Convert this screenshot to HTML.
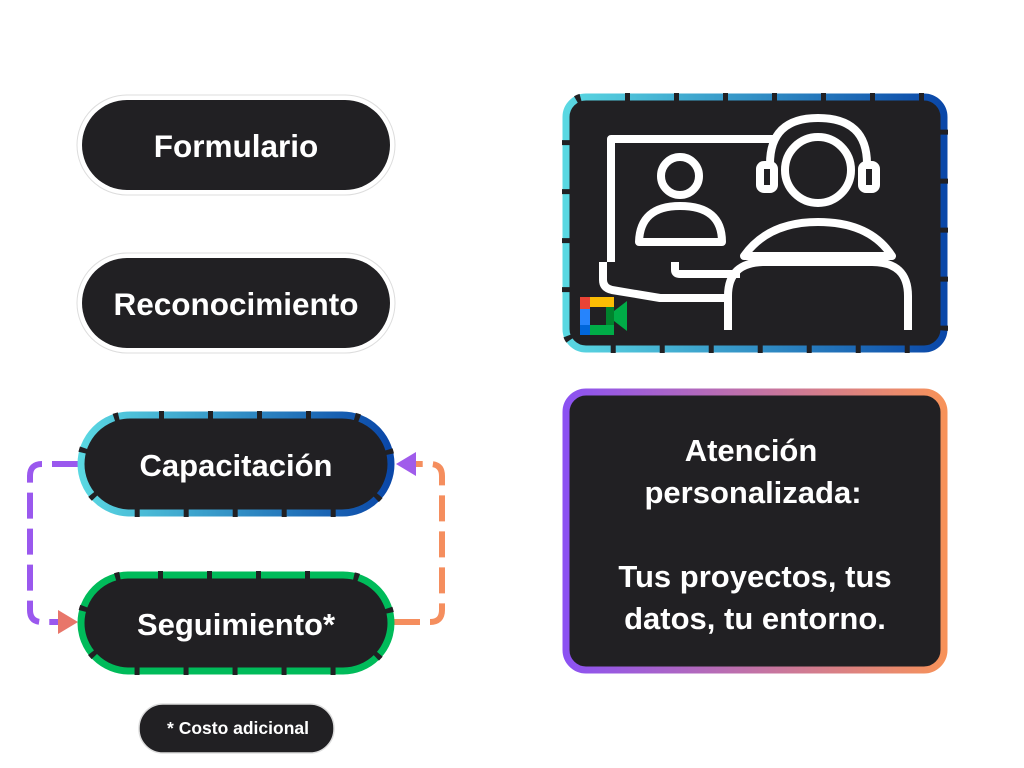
<!DOCTYPE html>
<html><head><meta charset="utf-8"><style>
html,body{margin:0;padding:0;background:#fff;width:1024px;height:768px;overflow:hidden}
svg{display:block}
text{font-family:"Liberation Sans",sans-serif;font-weight:bold;fill:#fff;text-anchor:middle}
</style></head><body>
<svg width="1024" height="768" viewBox="0 0 1024 768">
<defs>
<linearGradient id="blue" x1="0" x2="1" y1="0" y2="0"><stop offset="0" stop-color="#5ad8e2"/><stop offset="1" stop-color="#0a47a8"/></linearGradient>
<linearGradient id="po" x1="0" x2="1" y1="0" y2="0"><stop offset="0" stop-color="#8c52f2"/><stop offset="1" stop-color="#f7925a"/></linearGradient>
</defs>

<!-- Formulario -->
<rect x="77" y="95" width="318" height="100" rx="50" fill="#fff" stroke="#ddd" stroke-width="1"/>
<rect x="82" y="100" width="308" height="90" rx="45" fill="#212023"/>
<text x="236" y="157" font-size="31.5">Formulario</text>

<!-- Reconocimiento -->
<rect x="77" y="253" width="318" height="100" rx="50" fill="#fff" stroke="#ddd" stroke-width="1"/>
<rect x="82" y="258" width="308" height="90" rx="45" fill="#212023"/>
<text x="236" y="315" font-size="31.5">Reconocimiento</text>

<!-- connectors -->
<path d="M78 464 H42 Q30 464 30 476 V610 Q30 622 42 622 H62" fill="none" stroke="#9a58ee" stroke-width="6" stroke-dasharray="26 10"/>
<path d="M78 464 H48" stroke="url(#po)" stroke-width="6" fill="none"/>
<polygon points="58,610 78,622 58,634" fill="#e8766a"/>
<path d="M394 622 H430 Q442 622 442 610 V476 Q442 464 430 464 H410" fill="none" stroke="#f58e5e" stroke-width="6" stroke-dasharray="26 10"/>
<path d="M394 622 H425" stroke="url(#po)" stroke-width="6" fill="none"/>
<polygon points="416,452 396,464 416,476" fill="#a05ceb"/>
<path d="M416 464 H436" stroke="url(#po)" stroke-width="6"/>

<!-- Capacitación -->
<rect x="81" y="415" width="310" height="98" rx="49" fill="#212023" stroke="url(#blue)" stroke-width="7"/>
<rect x="81" y="415" width="310" height="98" rx="49" fill="none" stroke="#212023" stroke-width="8" stroke-dasharray="5 44" stroke-dashoffset="20"/>
<text x="236" y="476" font-size="31">Capacitación</text>

<!-- Seguimiento -->
<rect x="81" y="575" width="310" height="96" rx="48" fill="#212023" stroke="#00bb5a" stroke-width="7"/>
<rect x="81" y="575" width="310" height="96" rx="48" fill="none" stroke="#212023" stroke-width="8" stroke-dasharray="5 44" stroke-dashoffset="20"/>
<text x="236" y="635" font-size="31">Seguimiento*</text>

<!-- Costo -->
<rect x="139" y="704" width="195" height="49" rx="24" fill="#212023" stroke="#ddd" stroke-width="1.5"/>
<text x="238" y="734" font-size="17.5">* Costo adicional</text>

<!-- Video box -->
<rect x="566" y="97" width="378" height="252" rx="20" fill="#212023" stroke="url(#blue)" stroke-width="7"/>
<rect x="566" y="97" width="378" height="252" rx="20" fill="none" stroke="#212023" stroke-width="8" stroke-dasharray="5 44" stroke-dashoffset="10"/>
<g fill="none" stroke="#fff" stroke-width="8" stroke-linejoin="round">
<path d="M775 139 H611 V262"/>
<path d="M603 262 V280 Q603 288 612 290 L660 298 H728"/>
<path d="M675 262 V270 Q675 274 680 274 H740"/>
<circle cx="680" cy="176" r="19"/>
<path d="M639 242 Q640 206 680 206 Q722 206 722 242 Z"/>
<circle cx="818" cy="170" r="33"/>
<path d="M770 164 Q770 118 818 118 Q867 118 867 164"/>
<rect x="760" y="165" width="14" height="24" rx="4"/>
<rect x="862" y="165" width="14" height="24" rx="4"/>
<path d="M744 256 Q768 222 818 222 Q870 222 892 256 Z"/>
<path d="M728 330 V296 Q728 262 765 262 H872 Q908 262 908 296 V330"/>
</g>
<!-- Meet logo -->
<g>
<rect x="580" y="297" width="10" height="14" fill="#ea4335"/>
<rect x="590" y="297" width="24" height="10" fill="#fbbc04"/>
<rect x="580" y="309" width="10" height="16" fill="#2684fc"/>
<rect x="580" y="325" width="10" height="10" fill="#0066da"/>
<rect x="590" y="325" width="24" height="10" fill="#00ac47"/>
<rect x="606" y="307" width="8" height="18" fill="#00832d"/>
<polygon points="614,311 627,301 627,331 614,321" fill="#00ac47"/>
<rect x="590" y="307" width="16" height="18" fill="#212023"/>
</g>

<!-- Atención box -->
<rect x="566" y="392" width="378" height="278" rx="20" fill="#212023" stroke="url(#po)" stroke-width="7"/>
<text x="751" y="461" font-size="31">Atención</text>
<text x="753" y="503" font-size="31">personalizada:</text>
<text x="755" y="587" font-size="31">Tus proyectos, tus</text>
<text x="755" y="629" font-size="31">datos, tu entorno.</text>
</svg>
</body></html>
